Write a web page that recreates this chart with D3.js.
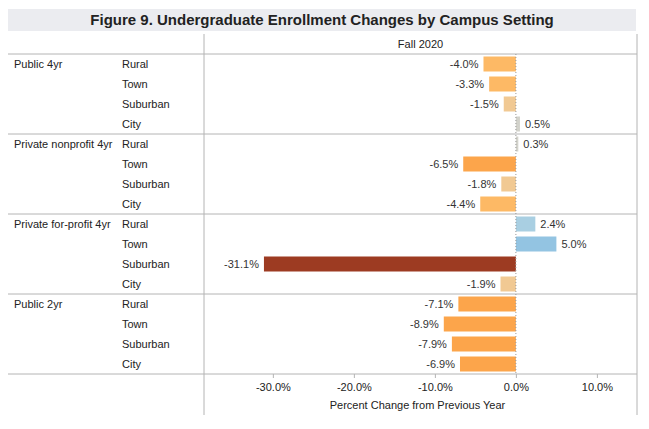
<!DOCTYPE html>
<html lang="en">
<head>
<meta charset="utf-8">
<title>Figure 9</title>
<script src="https://d3js.org/d3.v7.min.js"></script>
<style>
  body { margin: 0; background: #fff; }
  text { font-family: "Liberation Sans", Arial, sans-serif; }
</style>
</head>
<body>
<script>
// data
const sectors = ["Public 4yr", "Private nonprofit 4yr", "Private for-profit 4yr", "Public 2yr"];
const settings = ["Rural", "Town", "Suburban", "City"];
const values = [
  [-4.0, -3.3, -1.5, 0.5],
  [0.3, -6.5, -1.8, -4.4],
  [2.4, 5.0, -31.1, -1.9],
  [-7.1, -8.9, -7.9, -6.9]
];
const ticks = [-30, -20, -10, 0, 10];

const rows = [];
sectors.forEach((s, i) => settings.forEach((c, j) => rows.push({sector: s, setting: c, value: values[i][j], key: s + "|" + c})));

const width = 649, height = 429;
const left = 8, right = 637, split = 204;
const plotTop = 54, rowH = 20;
const plotBottom = plotTop + rows.length * rowH;

const svg = d3.select("body").append("svg").attr("width", width).attr("height", height);

// title
svg.append("rect").attr("x", 8).attr("y", 9).attr("width", 628).attr("height", 22).attr("fill", "#ebecf0");
svg.append("text").attr("x", 322).attr("y", 25).attr("text-anchor", "middle")
  .attr("font-size", 15).attr("font-weight", "bold").attr("fill", "#222")
  .text("Figure 9. Undergraduate Enrollment Changes by Campus Setting");

// scales
const x = d3.scaleLinear().domain([-38.5, 14.95]).range([split, right]);
const y = d3.scaleBand().domain(rows.map(d => d.key)).range([plotTop, plotBottom]);

const color = v => {
  if (v < -20) return "#9d3b22";
  if (v <= -5) return "#fca54b";
  if (v <= -2.5) return "#fdb965";
  if (v < 0) return "#f1c993";
  if (v < 1) return "#d2d2cb";
  if (v < 3) return "#a9cfe2";
  return "#93c4e2";
};

const line = "#b4b4b4";
const textY = d => y(d) + rowH / 2 + 3.5;

// header
svg.append("text").attr("x", (split + right) / 2).attr("y", 48).attr("text-anchor", "middle")
  .attr("font-size", 11).attr("fill", "#222").text("Fall 2020");

// grid lines
svg.append("line").attr("x1", split).attr("x2", split).attr("y1", 34).attr("y2", 415).attr("stroke", line);
svg.append("line").attr("x1", right).attr("x2", right).attr("y1", 34).attr("y2", 415).attr("stroke", line);
svg.selectAll(".sep").data(d3.range(sectors.length + 1)).enter().append("line")
  .attr("x1", left).attr("x2", right)
  .attr("y1", i => plotTop + i * 4 * rowH).attr("y2", i => plotTop + i * 4 * rowH)
  .attr("stroke", line);

// row labels
svg.selectAll(".sector").data(sectors).enter().append("text")
  .attr("x", 14).attr("y", d => textY(d + "|Rural"))
  .attr("font-size", 11).attr("fill", "#222").text(d => d);
svg.selectAll(".setting").data(rows).enter().append("text")
  .attr("x", 122).attr("y", d => textY(d.key))
  .attr("font-size", 11).attr("fill", "#222").text(d => d.setting);

// bars
const barH = 15;
svg.selectAll(".bar").data(rows).enter().append("rect")
  .attr("x", d => x(Math.min(0, d.value)))
  .attr("y", d => y(d.key) + (rowH - barH) / 2)
  .attr("width", d => Math.abs(x(d.value) - x(0)))
  .attr("height", barH)
  .attr("fill", d => color(d.value));

svg.selectAll(".val").data(rows).enter().append("text")
  .attr("x", d => d.value < 0 ? x(d.value) - 5 : x(d.value) + 5)
  .attr("y", d => textY(d.key))
  .attr("text-anchor", d => d.value < 0 ? "end" : "start")
  .attr("font-size", 11).attr("fill", "#333")
  .text(d => d.value.toFixed(1) + "%");

// zero line, drawn over the bars
svg.append("line").attr("x1", x(0)).attr("x2", x(0)).attr("y1", plotTop).attr("y2", plotBottom)
  .attr("stroke", "#999").attr("stroke-dasharray", "1,2");

// axis
const axis = svg.append("g").attr("transform", "translate(0," + plotBottom + ")")
  .call(d3.axisBottom(x).tickValues(ticks).tickSize(4).tickFormat(d => d.toFixed(1) + "%"));
axis.select(".domain").remove();
axis.selectAll(".tick line").attr("stroke", line);
axis.selectAll(".tick text").attr("font-size", 11).attr("fill", "#222")
  .attr("font-family", "'Liberation Sans', Arial, sans-serif").attr("dy", "0.95em");

svg.append("text").attr("x", (split + right) / 2 - 3).attr("y", 409).attr("text-anchor", "middle")
  .attr("font-size", 11).attr("fill", "#222").text("Percent Change from Previous Year");
</script>
</body>
</html>
